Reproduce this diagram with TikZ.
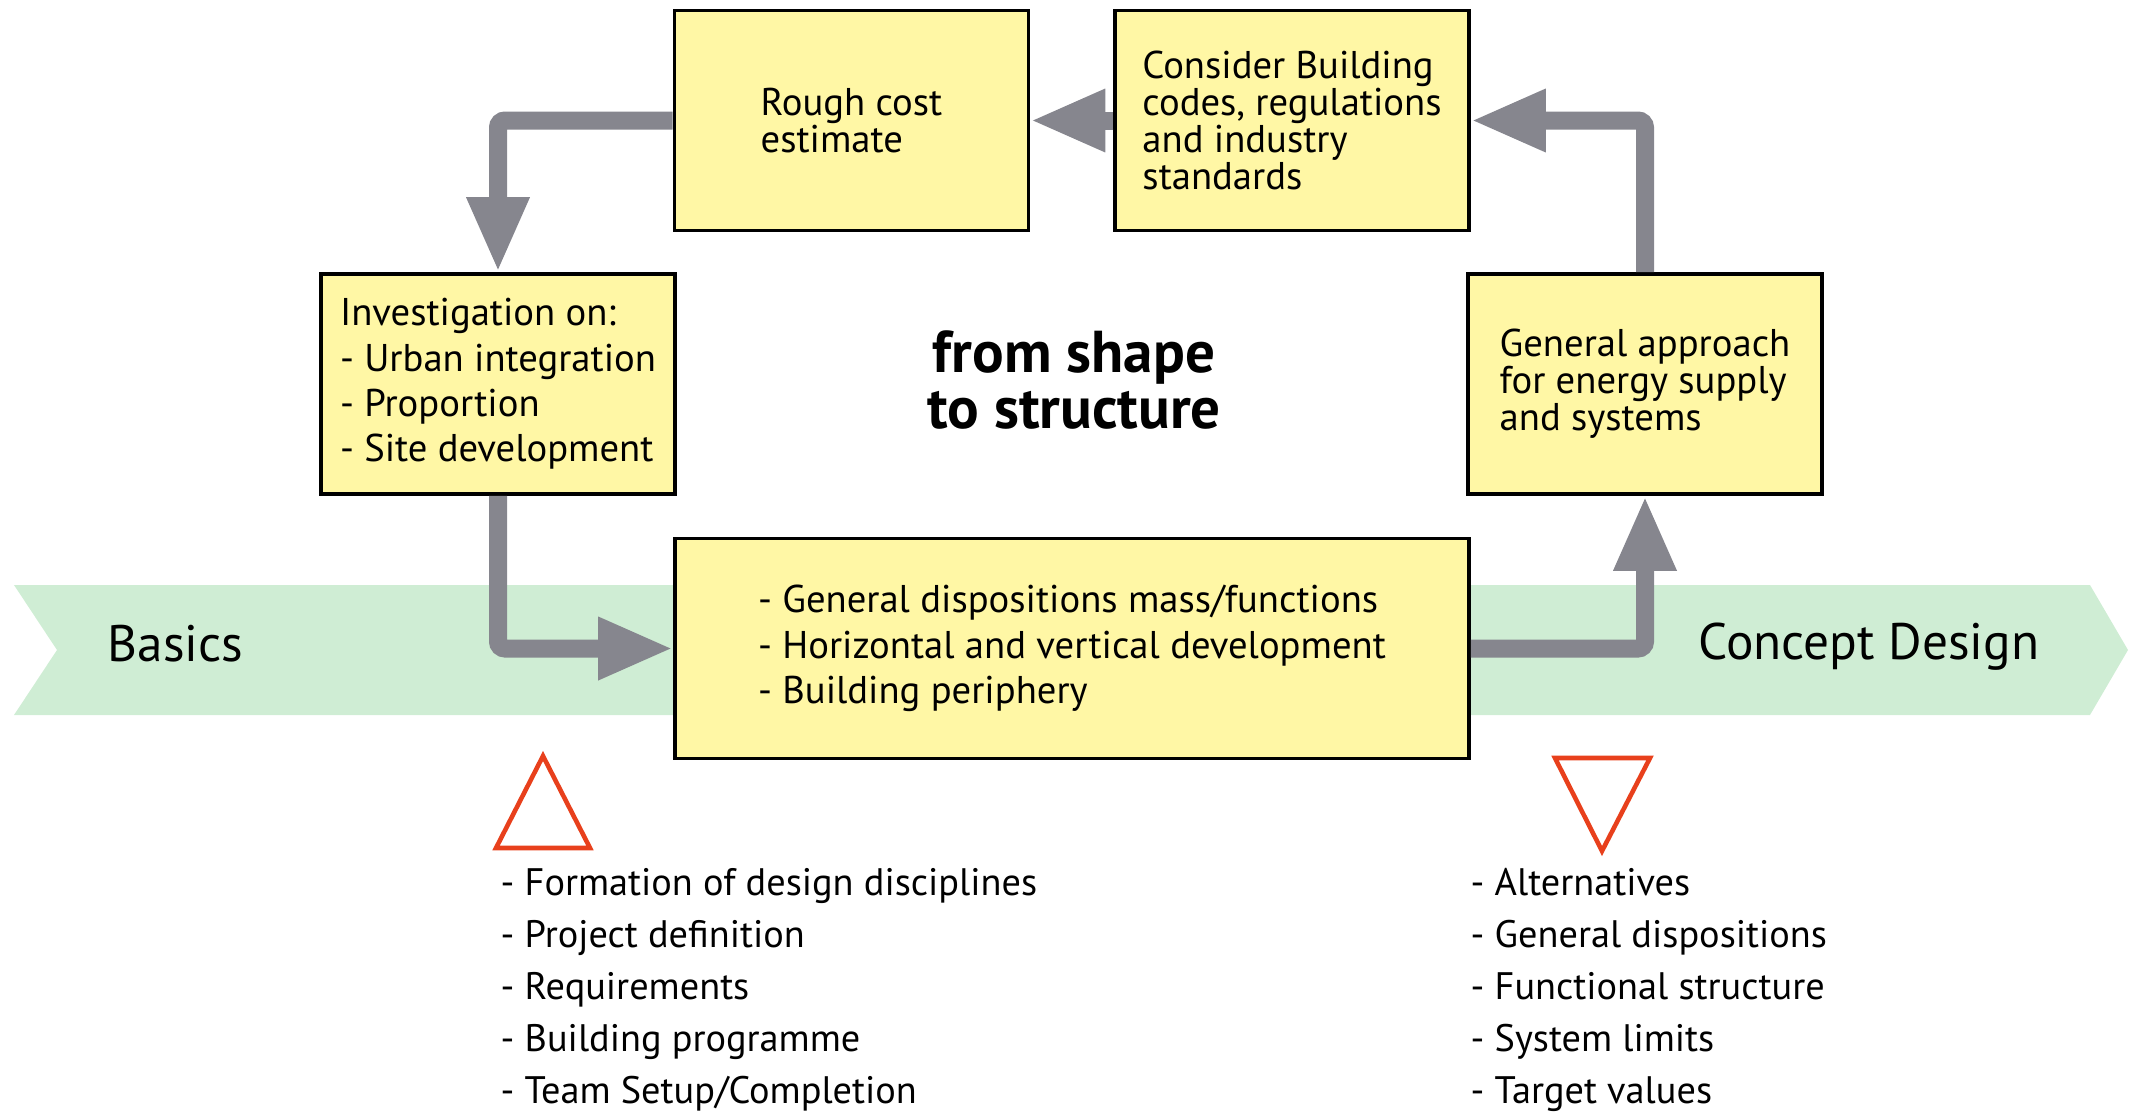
\documentclass[tikz,border=0pt]{standalone}
\usepackage{fontspec}
\setmainfont{PT Sans}
\usetikzlibrary{arrows.meta}
\definecolor{boxyellow}{RGB}{255,247,165}
\definecolor{bandgreen}{RGB}{207,237,212}
\definecolor{arrowgray}{RGB}{134,134,142}
\definecolor{trired}{RGB}{232,64,28}
\begin{document}
\begin{tikzpicture}[
  stagebox/.style={draw=black, line width=1pt, fill=boxyellow, align=left,
    minimum width=3.54cm, minimum height=2.2cm, inner sep=0pt,
    font=\fontsize{11}{10.5}\selectfont},
  flow/.style={draw=arrowgray, line width=0.18cm, rounded corners=2pt,
    -{Triangle[length=0.75cm, width=0.58cm]}, arrowgray},
  milestone/.style={draw=trired, line width=1.3pt, line join=miter},
  listtext/.style={anchor=west, align=left, inner sep=0pt,
    font=\fontsize{10.9}{14.8}\selectfont},
  phase/.style={anchor=west, inner sep=0pt, font=\fontsize{14.6}{16}\selectfont}]
\useasboundingbox (0,0) rectangle (21.35,11.13);
%
\fill[bandgreen](0.14,5.28) -- (20.90,5.28) -- (21.28,4.63) -- (20.90,3.98)
-- (0.14,3.98) -- (0.57,4.63) -- cycle; % phase band
\node[phase] (basics) at (1.07,4.69) {Basics};
\node[phase] (concept) at (16.98,4.66) {Concept Design};
%
\node[stagebox] (rough) at (8.515,9.925) {Rough cost\\estimate};
\node[stagebox] (codes) at (12.92,9.925) {Consider Building\\codes, regulations\\and industry\\standards};
\node[stagebox, font=\fontsize{11}{12.9}\selectfont] (invest) at (4.98,7.29)
{Investigation on:\\- Urban integration\\- Proportion\\- Site development};
\node[stagebox] (energy) at (16.45,7.29) {General approach\\for energy supply\\and systems};
\node[stagebox, minimum width=7.94cm, font=\fontsize{11}{13}\selectfont] (mass) at (10.72,4.645)
{- General dispositions mass/functions\\- Horizontal and vertical development\\- Building periphery};
%
\node[align=center, font=\bfseries\fontsize{16.8}{16.2}\selectfont] (motto) at (10.74,7.33)
{from shape\\to structure};
%
\draw[flow] (rough.west) -| (invest.north);
\draw[flow] (codes.west) -- (rough.east);
\draw[flow] (energy.north) |- (codes.east);
\draw[flow] (invest.south) |- (mass.west);
\draw[flow] (mass.east) -| (energy.south);
%
\draw[milestone] (4.96,2.65) -- (5.90,2.65) -- (5.43,3.57) -- cycle; % start
\draw[milestone] (15.55,3.55) -- (16.50,3.55) -- (16.02,2.62) -- cycle; % end
%
\node[listtext] (inputs) at (5.0,1.23) {- Formation of design disciplines\\- Project definition\\- Requirements\\- Building programme\\- Team Setup/Completion};
\node[listtext] (outputs) at (14.70,1.23) {- Alternatives\\- General dispositions\\- Functional structure\\- System limits\\- Target values};
\end{tikzpicture}
\end{document}
